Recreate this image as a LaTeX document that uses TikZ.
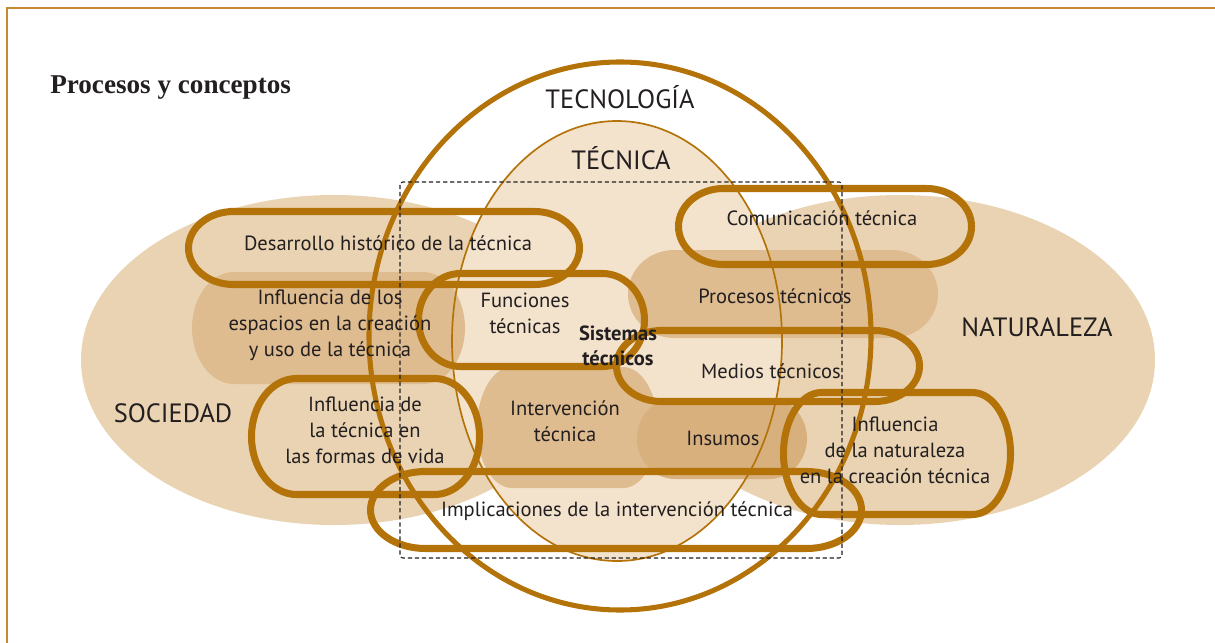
\documentclass[tikz,border=0pt]{standalone}
\usepackage{fontspec}
\setmainfont{PT Sans}
\newfontfamily\titlefont{Liberation Serif}

\definecolor{techline}{RGB}{179,115,9}
\definecolor{frameline}{RGB}{196,138,48}
\definecolor{socfill}{RGB}{234,211,178}
\definecolor{tecfill}{RGB}{243,227,205}
\definecolor{darkfill}{RGB}{222,188,143}
\definecolor{insfill}{RGB}{216,176,126}
\definecolor{inkgray}{RGB}{35,31,32}

% pill: [options] {x1}{y1}{x2}{y2}{cap x radius}
\newcommand{\pill}[6][]{%
  \path[#1] ({#2+#6},#3) -- ({#4-#6},#3)
    arc[start angle=-90, end angle=90, x radius=#6, y radius={(#5-#3)/2}]
    -- ({#2+#6},#5)
    arc[start angle=90, end angle=270, x radius=#6, y radius={(#5-#3)/2}] -- cycle;}

\tikzset{
  pillline/.style={draw=techline, line width=5pt},
  pillfill/.style={fill=darkfill},
  label/.style={font=\fontsize{14.6}{18.5}\selectfont, text=inkgray, align=center, inner sep=0pt},
  biglabel/.style={font=\fontsize{18.8}{21}\selectfont, text=inkgray, inner sep=0pt}
}

\begin{document}
\begin{tikzpicture}[x=0.025cm, y=-0.025cm]
  \useasboundingbox (0,0) rectangle (1215,643);
  \draw[frameline, line width=1.8pt] (7,643) -- (7,8) -- (1215,8);

  % fondos
  \fill[socfill] (334,360) ellipse [x radius=253, y radius=165];
  \fill[socfill] (900,360) ellipse [x radius=255, y radius=165];
  \fill[tecfill] (617,341) ellipse [x radius=165, y radius=220];

  \pill[pillfill]{192}{272}{465}{384}{42}
  \pill[pillfill]{628}{250}{938}{338}{46}
  \pill[pillfill]{477}{367}{658}{488}{35}
  \pill[fill=insfill]{637}{398}{807}{479}{38}

  \draw[techline, line width=1.2pt] (617,341) ellipse [x radius=165, y radius=220];
  \draw[techline, line width=3.6pt] (620,336) ellipse [x radius=251, y radius=274];

  % contornos
  \pill[pillline]{188.5}{211.5}{579.5}{284.5}{45}
  \pill[pillline]{418.5}{273.5}{644.5}{366.5}{42}
  \pill[pillline]{251.5}{378.5}{479.5}{494.5}{45}
  \pill[pillline]{678.5}{188.5}{971.5}{264.5}{45}
  \pill[pillline]{616.5}{330.5}{919.5}{401.5}{45}
  \pill[pillline]{783.5}{392.5}{1010.5}{514.5}{38}
  \pill[pillline]{370.5}{471.5}{861.5}{548.5}{55}

  \draw[inkgray, dash pattern=on 3pt off 2pt, line width=0.8pt, rounded corners=2pt] (400,182) rectangle (842,558);

  % textos
  \node[anchor=west, inner sep=0pt, text=inkgray, font=\titlefont\bfseries\fontsize{19.3}{22}\selectfont] (titulo) at (50,88) {Procesos y conceptos};
  \node[biglabel] (tecnologia) at (620,97) {TECNOLOGÍA};
  \node[biglabel] (tecnica) at (621,158) {TÉCNICA};
  \node[biglabel] (sociedad) at (173,413) {SOCIEDAD};
  \node[biglabel] (naturaleza) at (1037,327) {NATURALEZA};

  \node[label] (desarrollo) at (388,243) {Desarrollo histórico de la técnica};
  \node[label] (espacios) at (330,325) {Influencia de los\\espacios en la creación\\y uso de la técnica};
  \node[label] (formas) at (365,430) {Influencia de\\la técnica en\\las formas de vida};
  \node[label] (funciones) at (525,313) {Funciones\\técnicas};
  \node[label, font=\bfseries\fontsize{14.6}{18}\selectfont] (sistemas) at (618,346) {Sistemas\\técnicos};
  \node[label] (intervencion) at (565,421) {Intervención\\técnica};
  \node[label] (comunicacion) at (822,218) {Comunicación técnica};
  \node[label] (procesos) at (775,296) {Procesos técnicos};
  \node[label] (medios) at (771,371) {Medios técnicos};
  \node[label] (insumos) at (723,438) {Insumos};
  \node[label] (influnat) at (895,450) {Influencia\\de la naturaleza\\en la creación técnica};
  \node[label] (implicaciones) at (617,511) {Implicaciones de la intervención técnica};
\end{tikzpicture}
\end{document}
